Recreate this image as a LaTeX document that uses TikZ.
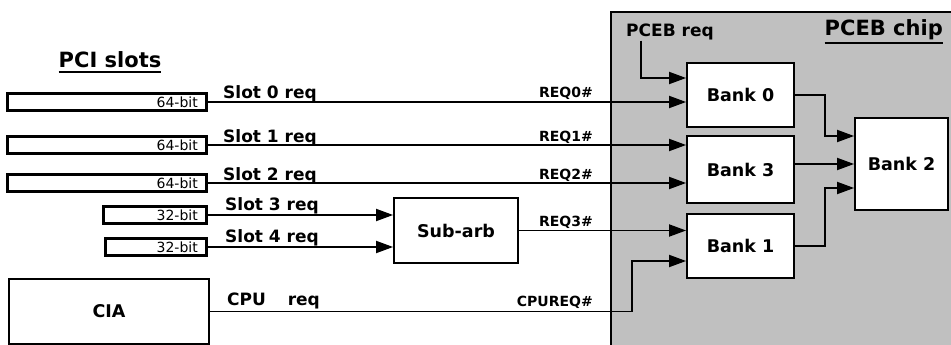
\documentclass[tikz,border=0pt]{standalone}
\usepackage{fontspec}
\setmainfont{DejaVu Sans}
\usetikzlibrary{calc,arrows.meta}
\definecolor{chipgray}{RGB}{192,192,192}

\begin{document}
\begin{tikzpicture}[x=1pt,y=-1pt,>={Triangle[length=17pt,width=12pt]},
  sig/.style={line width=1.8pt},
  slotbox/.style={draw,line width=2.6pt,minimum height=17pt,inner sep=0pt},
  blk/.style={draw,fill=white,line width=1.8pt,inner sep=0pt,font=\fontsize{17.5}{20}\selectfont\bfseries},
  lbl/.style={inner sep=0pt,font=\fontsize{17}{20}\selectfont\bfseries},
  req/.style={inner sep=0pt,font=\fontsize{14}{16}\selectfont\bfseries},
  bits/.style={inner sep=0pt,font=\fontsize{14}{16}\selectfont},
  ttl/.style={inner sep=0pt,font=\fontsize{21}{24}\selectfont\bfseries}]
  \useasboundingbox (0,0) rectangle (951,345);
  \clip (0,0) rectangle (951,345);
  % PCEB chip
  \node[draw,fill=chipgray,line width=1.8pt,minimum width=360pt,minimum height=350pt,anchor=north west] (chip) at (610,11) {};
  \node[ttl,anchor=base east] (chipt) at (943,36) {PCEB chip};
  \draw[line width=1.6pt] ([yshift=-7pt]chipt.base west) -- ([yshift=-7pt]chipt.base east);
  \node[blk,minimum width=107pt,minimum height=64pt] (b0) at (740.5,95) {Bank 0};
  \node[blk,minimum width=107pt,minimum height=67pt] (b3) at (740.5,169.5) {Bank 3};
  \node[blk,minimum width=107pt,minimum height=64pt] (b1) at (740.5,246) {Bank 1};
  \node[blk,minimum width=93pt,minimum height=92pt] (b2) at (901.5,164) {Bank 2};
  \node[lbl,anchor=base west] (preq) at (626,37) {PCEB req};
  \coordinate (pr) at (641,78);
  \draw[sig,->] (preq.south -| pr) -- (pr) -- (pr -| b0.west);
  \coordinate (j0) at (825,136); \coordinate (j1) at (825,188);
  \draw[sig,->] (b0.east) -| (j0) -- (j0 -| b2.west);
  \draw[sig,->] (b3.east |- b2.west) -- (b2.west);
  \draw[sig,->] (b1.east) -| (j1) -- (j1 -| b2.west);
  % PCI slots
  \node[ttl,anchor=base] (pci) at (110,68) {PCI slots};
  \draw[line width=1.6pt] ([yshift=-4pt]pci.base west) -- ([yshift=-4pt]pci.base east);
  \node[slotbox,minimum width=199pt,anchor=east] (s0) at (208,102) {};
  \node[slotbox,minimum width=199pt,anchor=east] (s1) at (208,145) {};
  \node[slotbox,minimum width=199pt,anchor=east] (s2) at (208,183) {};
  \node[slotbox,minimum width=103pt,anchor=east] (s3) at (208,215) {};
  \node[slotbox,minimum width=101pt,anchor=east] (s4) at (208,247) {};
  \node[bits,anchor=east] (w0) at ([xshift=-10pt]s0.east) {64-bit};
  \node[bits,anchor=east] (w1) at ([xshift=-10pt]s1.east) {64-bit};
  \node[bits,anchor=east] (w2) at ([xshift=-10pt]s2.east) {64-bit};
  \node[bits,anchor=east] (w3) at ([xshift=-10pt]s3.east) {32-bit};
  \node[bits,anchor=east] (w4) at ([xshift=-10pt]s4.east) {32-bit};
  \node[blk,minimum width=124pt,minimum height=65pt] (sub) at (456,230.5) {Sub-arb};
  \node[blk,minimum width=200pt,minimum height=65pt] (cia) at (109,311.5) {CIA};
  % request lines
  \draw[sig,->] (s0.east) -- (s0.east -| b0.west);
  \draw[sig,->] (s1.east) -- (s1.east -| b3.west);
  \draw[sig,->] (s2.east) -- (s2.east -| b3.west);
  \draw[sig,->] (s3.east) -- (s3.east -| sub.west);
  \draw[sig,->] (s4.east) -- (s4.east -| sub.west);
  \draw[sig,->] (sub.east) -- (sub.east -| b1.west);
  \coordinate (cb) at (632,261);
  \draw[sig,->] (cia.east) -| (cb) -- (cb -| b1.west);
  \node[lbl,anchor=base west] (l0) at ($(s0.east)+(15,-3)$) {Slot 0 req};
  \node[lbl,anchor=base west] (l1) at ($(s1.east)+(15,-3)$) {Slot 1 req};
  \node[lbl,anchor=base west] (l2) at ($(s2.east)+(15,-3)$) {Slot 2 req};
  \node[lbl,anchor=base west] (l3) at ($(s3.east)+(17,-5)$) {Slot 3 req};
  \node[lbl,anchor=base west] (l4) at ($(s4.east)+(17,-5)$) {Slot 4 req};
  \node[lbl,anchor=base west] (lc) at ($(cia.east)+(17,-6)$) {CPU\hspace{22pt}req};
  \node[req,anchor=base east] (r0) at ($(s0.east -| chip.west)+(-17,-4)$) {REQ0\#};
  \node[req,anchor=base east] (r1) at ($(s1.east -| chip.west)+(-17,-4)$) {REQ1\#};
  \node[req,anchor=base east] (r2) at ($(s2.east -| chip.west)+(-17,-4)$) {REQ2\#};
  \node[req,anchor=base east] (r3) at ($(sub.east -| chip.west)+(-17,-4)$) {REQ3\#};
  \node[req,anchor=base east] (rc) at ($(cia.east -| chip.west)+(-17,-5)$) {CPUREQ\#};
\end{tikzpicture}
\end{document}
